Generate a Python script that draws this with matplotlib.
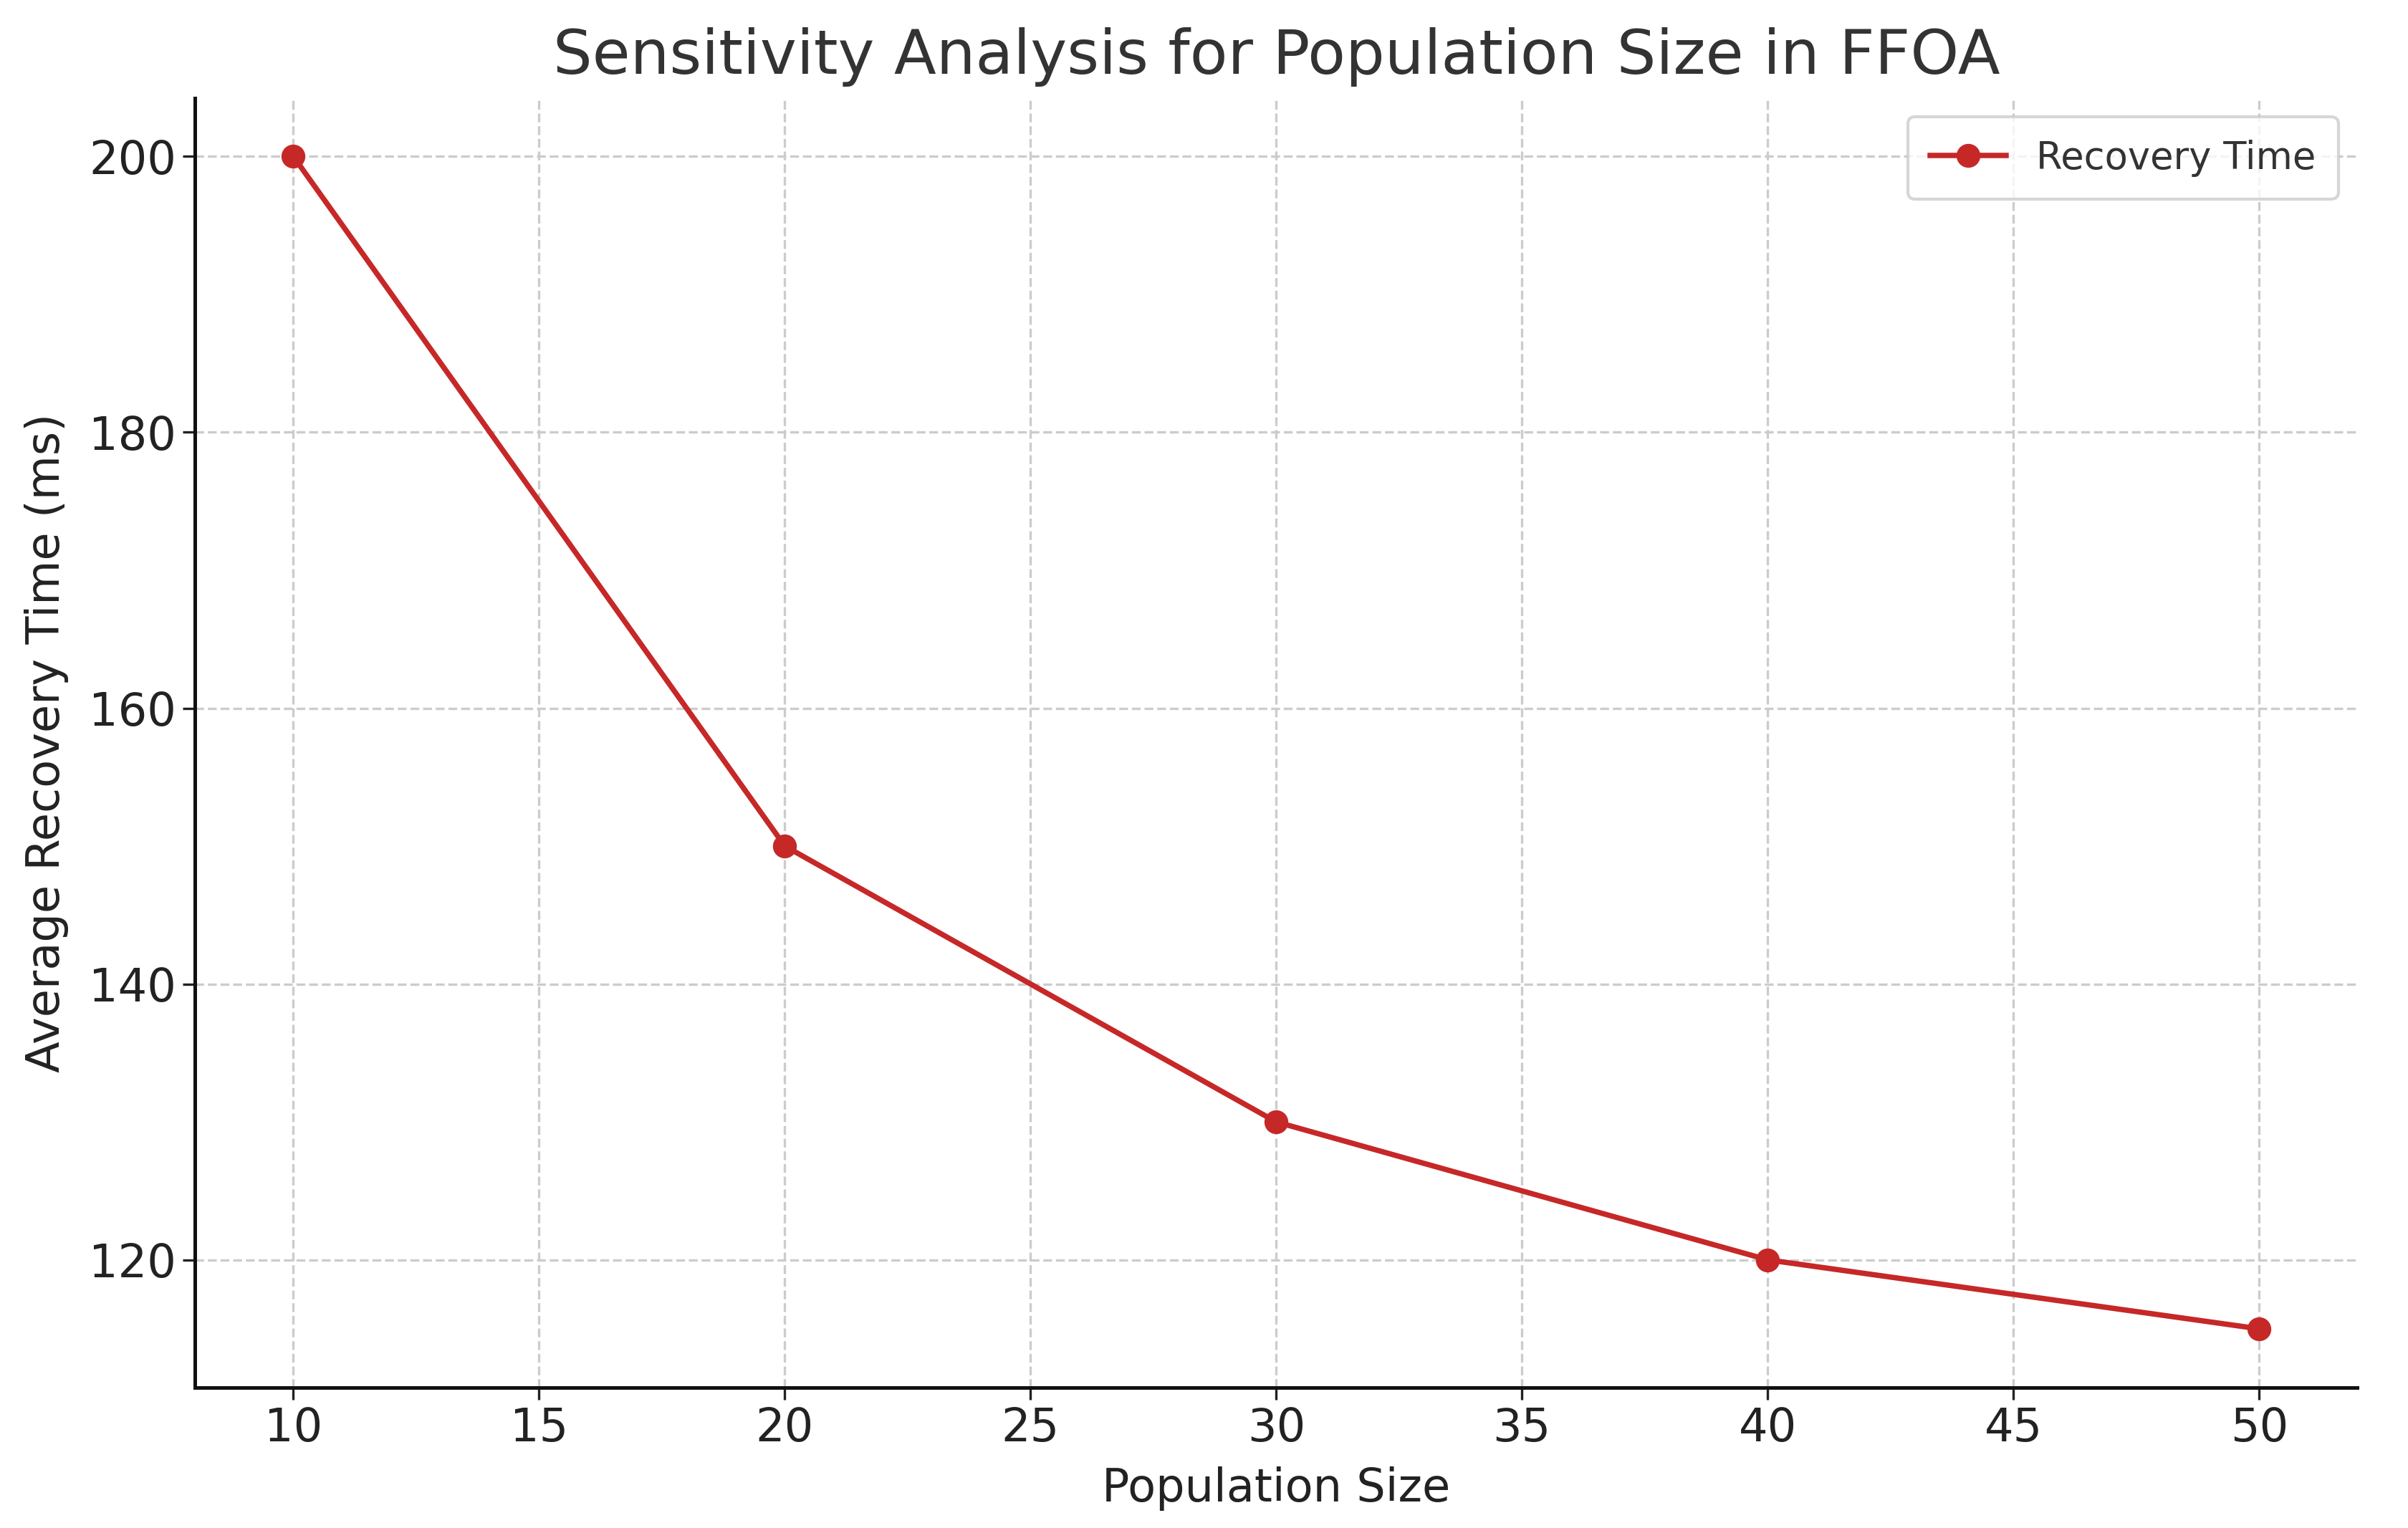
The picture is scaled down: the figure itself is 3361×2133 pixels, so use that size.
import matplotlib
matplotlib.use("Agg")
from matplotlib import pyplot as plt

population_size = [10, 20, 30, 40, 50]
recovery_time = [200, 150, 130, 120, 115]
x_ticks = [10, 15, 20, 25, 30, 35, 40, 45, 50]
y_ticks = [120, 140, 160, 180, 200]


def main():
    plt.rcParams["font.family"] = "DejaVu Sans"
    fig, ax = plt.subplots(figsize=(16.805, 10.665), dpi=200)
    fig.subplots_adjust(left=0.081, right=0.979, top=0.936, bottom=0.092)

    ax.plot(population_size, recovery_time, color="#c62828", linewidth=2.7,
            marker="o", markersize=11, label="Recovery Time")

    ax.set_title("Sensitivity Analysis for Population Size in FFOA",
                 fontsize=31, color="#333333", pad=12)
    ax.set_xlabel("Population Size", fontsize=23, color="#222222", labelpad=8)
    ax.set_ylabel("Average Recovery Time (ms)", fontsize=23, color="#222222",
                  labelpad=10)
    ax.set_xticks(x_ticks)
    ax.set_yticks(y_ticks)
    ax.tick_params(labelsize=23, colors="#222222", length=6, width=1.2)

    ax.grid(True, linestyle="--", color="#cccccc", linewidth=1.2)
    ax.set_axisbelow(True)
    for side in ["top", "right"]:
        ax.spines[side].set_visible(False)
    for side in ["left", "bottom"]:
        ax.spines[side].set_linewidth(1.8)
        ax.spines[side].set_color("#111111")

    leg = ax.legend(loc="upper right", fontsize=19, frameon=True,
                    borderpad=0.6, handlelength=2.0)
    leg.get_frame().set_edgecolor("#cccccc")
    leg.get_frame().set_linewidth(1.5)
    for t in leg.get_texts():
        t.set_color("#333333")

    fig.savefig("out.png", dpi=200)


if __name__ == "__main__":
    main()
